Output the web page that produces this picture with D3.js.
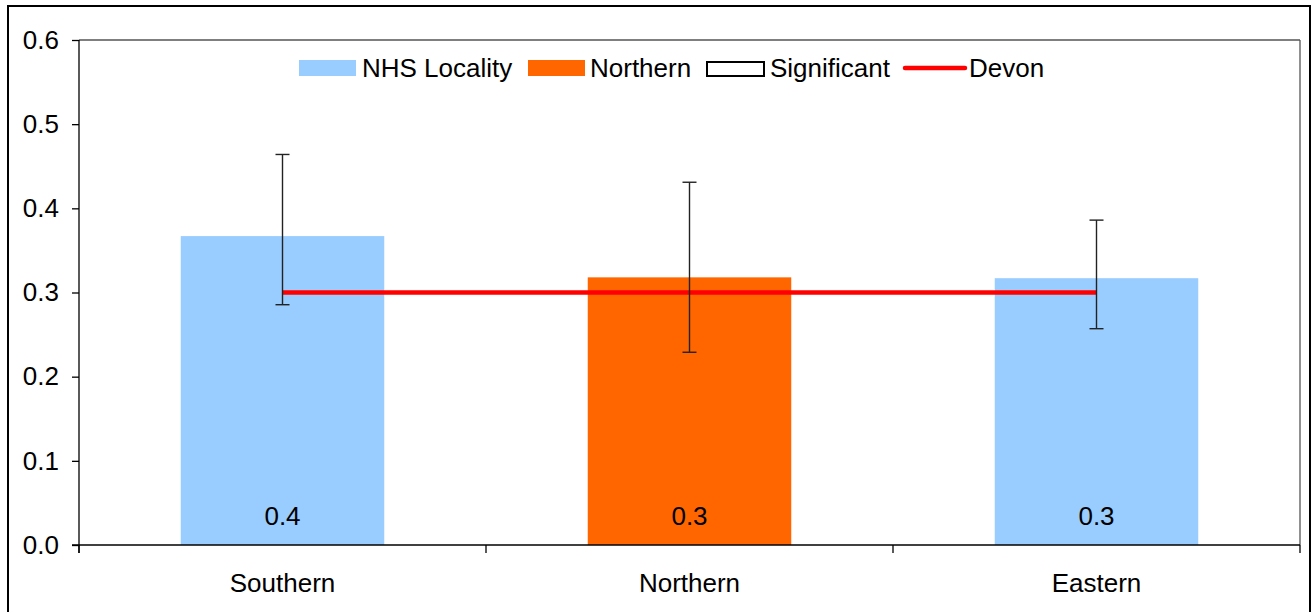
<!DOCTYPE html>
<html>
<head>
<meta charset="utf-8">
<script src="https://cdn.jsdelivr.net/npm/d3@7"></script>
<style>
  html, body { margin: 0; padding: 0; background: #fff; }
  svg { display: block; }
  text { font-family: "Liberation Sans", Arial, sans-serif; fill: #000; }
</style>
</head>
<body>
<svg id="chart" width="1315" height="612"></svg>
<script>
const categories = ["Southern", "Northern", "Eastern"];
const values = [0.367, 0.318, 0.317];
const upper = [0.464, 0.431, 0.386];
const lower = [0.2855, 0.229, 0.257];
const highlighted = [false, true, false];
const devonValue = 0.3;
const valueLabels = ["0.4", "0.3", "0.3"];
const yTicks = [0, 0.1, 0.2, 0.3, 0.4, 0.5, 0.6];
const legendItems = ["NHS Locality", "Northern", "Significant", "Devon"];

const svg = d3.select("#chart");
const plot = { left: 79, right: 1300, top: 40, bottom: 545 };
const FONT = 26;

// outer border
svg.append("rect").attr("x", 8).attr("y", 6).attr("width", 1302).attr("height", 620)
  .attr("fill", "#fff").attr("stroke", "#000").attr("stroke-width", 2);

const x = d3.scaleBand().domain(categories).range([plot.left, plot.right])
  .paddingInner(0.5).paddingOuter(0.25);
const xEdge = d3.scalePoint().domain(d3.range(categories.length + 1)).range([plot.left, plot.right]);
const y = d3.scaleLinear().domain([0, 0.6]).range([plot.bottom, plot.top]);

// plot area top and right border
svg.append("line").attr("x1", plot.left).attr("x2", plot.right)
  .attr("y1", y(0.6)).attr("y2", y(0.6)).attr("stroke", "#555").attr("stroke-width", 1.3);
svg.append("line").attr("x1", plot.right).attr("x2", plot.right)
  .attr("y1", plot.top).attr("y2", plot.bottom).attr("stroke", "#555").attr("stroke-width", 1.3);

// bars
svg.append("g").selectAll("rect").data(categories).join("rect")
  .attr("x", d => x(d))
  .attr("width", x.bandwidth())
  .attr("y", (d, i) => y(values[i]))
  .attr("height", (d, i) => y(0) - y(values[i]))
  .attr("fill", (d, i) => highlighted[i] ? "#FF6600" : "#99CCFF");

// value labels
svg.append("g").selectAll("text").data(categories).join("text")
  .attr("x", d => x(d) + x.bandwidth() / 2)
  .attr("y", 525)
  .attr("text-anchor", "middle")
  .attr("font-size", FONT)
  .text((d, i) => valueLabels[i]);

// Devon line
const devonLine = d3.line().x(d => x(d) + x.bandwidth() / 2).y(() => y(devonValue));
svg.append("path").datum(categories).attr("d", devonLine)
  .attr("fill", "none").attr("stroke", "#FF0000").attr("stroke-width", 4.5);

// error bars
const eb = svg.append("g").attr("stroke", "#222").attr("stroke-width", 1.4);
categories.forEach((c, i) => {
  const cx = x(c) + x.bandwidth() / 2;
  eb.append("line").attr("x1", cx).attr("x2", cx).attr("y1", y(upper[i])).attr("y2", y(lower[i]));
  eb.append("line").attr("x1", cx - 7).attr("x2", cx + 7).attr("y1", y(upper[i])).attr("y2", y(upper[i]));
  eb.append("line").attr("x1", cx - 7).attr("x2", cx + 7).attr("y1", y(lower[i])).attr("y2", y(lower[i]));
});

// y axis
const yAxis = d3.axisLeft(y).tickValues(yTicks).tickFormat(d3.format(".1f")).tickSize(7).tickPadding(13);
const gy = svg.append("g").attr("transform", `translate(${plot.left},0)`).call(yAxis);
gy.select(".domain").attr("d", `M0,${plot.top}V${plot.bottom + 8}`).attr("stroke", "#000").attr("stroke-width", 1.3);
gy.selectAll(".tick line").attr("stroke", "#000").attr("stroke-width", 1.3);
gy.selectAll(".tick text").attr("font-size", FONT).attr("font-family", "Liberation Sans, Arial, sans-serif").attr("fill", "#000");

// x axis: line + boundary ticks
const gx = svg.append("g");
gx.append("line").attr("x1", plot.left - 7).attr("x2", plot.right).attr("y1", plot.bottom).attr("y2", plot.bottom)
  .attr("stroke", "#000").attr("stroke-width", 1.5);
gx.selectAll("line.tk").data(d3.range(categories.length + 1)).join("line").attr("class", "tk")
  .attr("x1", d => xEdge(d)).attr("x2", d => xEdge(d))
  .attr("y1", plot.bottom).attr("y2", plot.bottom + 8)
  .attr("stroke", "#000").attr("stroke-width", 1.3);
gx.selectAll("text").data(categories).join("text")
  .attr("x", d => x(d) + x.bandwidth() / 2)
  .attr("y", 592)
  .attr("text-anchor", "middle")
  .attr("font-size", FONT)
  .text(d => d);

// legend
const leg = svg.append("g");
const legX = [299, 528, 707, 905];
const legText = [362, 590, 770, 969];
leg.append("rect").attr("x", legX[0]).attr("y", 60).attr("width", 57).attr("height", 16).attr("fill", "#99CCFF");
leg.append("rect").attr("x", legX[1]).attr("y", 60).attr("width", 57).attr("height", 16).attr("fill", "#FF6600");
leg.append("rect").attr("x", legX[2]).attr("y", 62).attr("width", 57).attr("height", 14).attr("fill", "#fff")
  .attr("stroke", "#000").attr("stroke-width", 2);
leg.append("line").attr("x1", legX[3]).attr("x2", legX[3] + 60).attr("y1", 68).attr("y2", 68)
  .attr("stroke", "#FF0000").attr("stroke-width", 4.5).attr("stroke-linecap", "round");
leg.selectAll("text").data(legendItems).join("text")
  .attr("x", (d, i) => legText[i]).attr("y", 77)
  .attr("font-size", FONT)
  .text(d => d);
</script>
</body>
</html>
